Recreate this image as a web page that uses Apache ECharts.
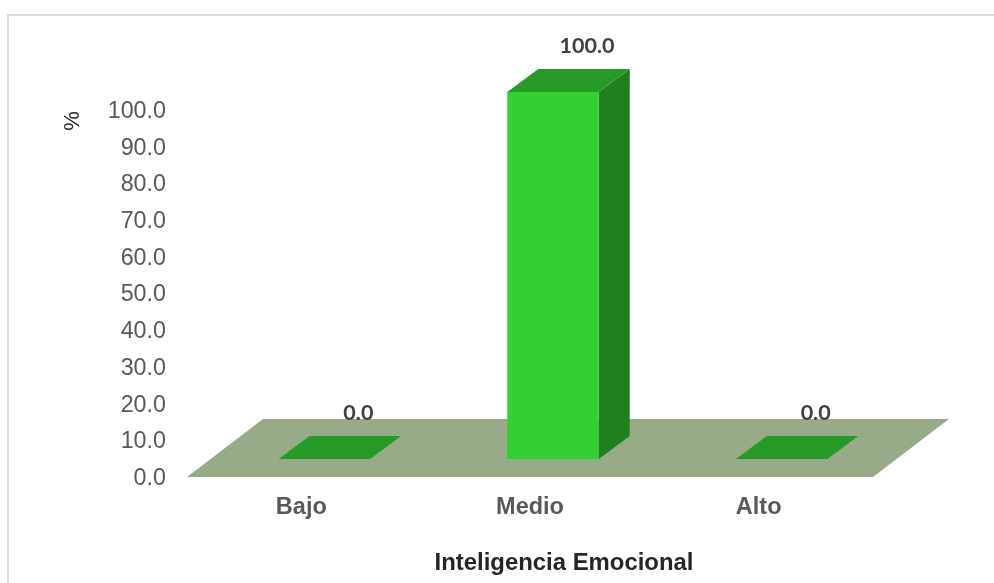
<!DOCTYPE html>
<html>
<head>
<meta charset="utf-8">
<style>
html, body { margin: 0; padding: 0; background: #fff; }
#chart { width: 994px; height: 583px; }
</style>
<script src="https://cdn.jsdelivr.net/npm/echarts@6/dist/echarts.min.js"></script>
</head>
<body>
<div id="chart"></div>
<script>
var categories = ['Bajo', 'Medio', 'Alto'];
var values = [0.0, 100.0, 0.0];

var myChart = echarts.init(document.getElementById('chart'));

// 3d look: floor depth and bar depth in px
var floorDx = 76, floorDy = -58;
var barShiftX = 23, barShiftY = -18;
var barDx = 31, barDy = -23;

function renderFloor(params, api) {
    var band = api.size([1, 0])[0];
    var p0 = api.coord([0, 0]);
    var p2 = api.coord([2, 0]);
    var x1 = p0[0] - band / 2, x2 = p2[0] + band / 2, y = p0[1];
    return {
        type: 'polygon',
        shape: { points: [[x1, y], [x2, y], [x2 + floorDx, y + floorDy], [x1 + floorDx, y + floorDy]] },
        style: { fill: '#97ab88' }
    };
}

function renderBar(params, api) {
    var band = api.size([1, 0])[0];
    var w = band * 0.4;
    var base = api.coord([api.value(0), 0]);
    var top = api.coord([api.value(0), api.value(1)]);
    var x1 = base[0] + barShiftX - w / 2, x2 = x1 + w;
    var y0 = base[1] + barShiftY, y1 = top[1] + barShiftY;
    return {
        type: 'group',
        children: [
            { type: 'polygon', shape: { points: [[x2, y0], [x2 + barDx, y0 + barDy], [x2 + barDx, y1 + barDy], [x2, y1]] }, style: { fill: '#208020' } },
            { type: 'polygon', shape: { points: [[x1, y1], [x2, y1], [x2 + barDx, y1 + barDy], [x1 + barDx, y1 + barDy]] }, style: { fill: '#269a26' } },
            { type: 'rect', shape: { x: x1, y: y1, width: w, height: y0 - y1 }, style: { fill: '#32d032' } },
            {
                type: 'text',
                style: {
                    x: base[0] + 57, y: top[1] - 64,
                    text: api.value(1).toFixed(1),
                    align: 'center', verticalAlign: 'middle',
                    font: 'bold 21.5px Lato', fill: '#404040'
                }
            }
        ]
    };
}

var option = {
    animation: false,
    backgroundColor: '#fff',
    grid: { left: 187, right: 121, top: 110, bottom: 106 },
    xAxis: {
        type: 'category',
        data: categories,
        axisLine: { show: false },
        axisTick: { show: false },
        axisLabel: { margin: 19, color: '#595959', fontFamily: 'Liberation Sans', fontWeight: 'bold', fontSize: 23.5 }
    },
    yAxis: {
        type: 'value',
        min: 0,
        max: 100,
        interval: 10,
        splitLine: { show: false },
        axisLine: { show: false },
        axisTick: { show: false },
        axisLabel: {
            margin: 21,
            formatter: function (v) { return '{t|' + v.toFixed(1) + '}'; },
            rich: {
                // nudges the numbers down so they sit like the reference
                t: { color: '#595959', fontFamily: 'Liberation Sans', fontSize: 23.3, padding: [3, 0, 0, 0] }
            }
        }
    },
    graphic: [
        { type: 'polyline', shape: { points: [[8, 583], [8, 15], [994, 15]] }, style: { fill: null, stroke: '#d9d9d9', lineWidth: 2 } },
        { type: 'text', x: 564, y: 563, style: { text: 'Inteligencia Emocional', align: 'center', verticalAlign: 'middle', font: 'bold 23.9px "Liberation Sans"', fill: '#262626' } },
        { type: 'text', x: 73, y: 121, rotation: Math.PI / 2, style: { text: '%', align: 'center', verticalAlign: 'middle', font: '22px "Liberation Sans"', fill: '#262626' } }
    ],
    series: [
        { type: 'custom', coordinateSystem: 'cartesian2d', renderItem: renderFloor, z: 1, silent: true, data: [[0, 0]], encode: { x: 0, y: 1 } },
        { type: 'custom', coordinateSystem: 'cartesian2d', renderItem: renderBar, z: 2, clip: false, encode: { x: 0, y: 1 },
          data: values.map(function (v, i) { return [i, v]; }) }
    ]
};

myChart.setOption(option);
</script>
</body>
</html>
